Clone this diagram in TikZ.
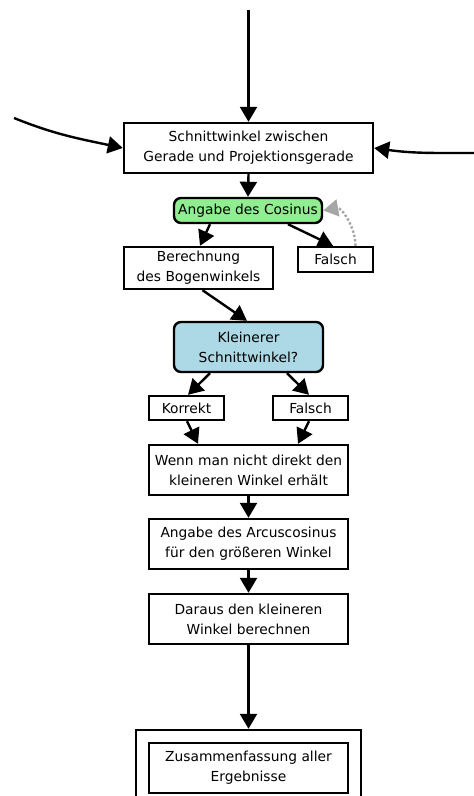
\documentclass[tikz,border=0pt]{standalone}
\usepackage{fontspec}
\setmainfont{DejaVu Sans}
\usetikzlibrary{arrows.meta}
\definecolor{paleGreen}{HTML}{90EE90}
\definecolor{paleBlue}{HTML}{ADD8E6}
\begin{document}
\begin{tikzpicture}[x=1pt,y=-1pt,
  font=\fontsize{13.8}{20}\selectfont,
  box/.style={draw, line width=2.4pt, fill=white, align=center, inner sep=0pt},
  roundbox/.style={box, rounded corners=7pt},
  flow/.style={line width=2.4pt, -{Triangle[length=15pt,width=17pt]}},
  back/.style={line width=2.4pt, gray!70, dotted, -{Triangle[length=15pt,width=17pt]}}]
\useasboundingbox (0,0) rectangle (474,796);

% main steps
\node[box, minimum width=249pt, minimum height=50pt] (schnitt) at (248.5,148)
  {Schnittwinkel zwischen\\Gerade und Projektionsgerade};
\node[roundbox, fill=paleGreen, minimum width=148pt, minimum height=25pt] (cosinus) at (248,210.5)
  {Angabe des Cosinus};
\node[box, minimum width=149pt, minimum height=42pt] (bogen) at (198.5,268)
  {Berechnung\\des Bogenwinkels};
\node[box, minimum width=75pt, minimum height=25pt] (falschA) at (335.5,259.5) {Falsch};
\node[roundbox, fill=paleBlue, minimum width=149pt, minimum height=50pt] (kleiner) at (248.5,347)
  {Kleinerer\\Schnittwinkel?};
\node[box, minimum width=75pt, minimum height=24pt] (korrekt) at (186.5,408) {Korrekt};
\node[box, minimum width=75pt, minimum height=24pt] (falschB) at (310.5,408) {Falsch};
\node[box, minimum width=199pt, minimum height=50pt] (wenn) at (248.5,470)
  {Wenn man nicht direkt den\\kleineren Winkel erhält};
\node[box, minimum width=199pt, minimum height=50pt] (arcus) at (248.5,544)
  {Angabe des Arcuscosinus\\für den größeren Winkel};
\node[box, minimum width=199pt, minimum height=50pt] (daraus) at (248.5,619)
  {Daraus den kleineren\\Winkel berechnen};
\node[box, minimum width=225pt, minimum height=90pt] (rahmen) at (248.5,775) {};
\node[box, minimum width=199pt, minimum height=50pt] (summe) at (248.5,768)
  {Zusammenfassung aller\\Ergebnisse};

% incoming connectors
\coordinate (oben) at (248.5,10);
\coordinate (links) at (14,118);
\coordinate (rechts) at (476,153);
\draw[flow] (oben) -- (schnitt.north);
\draw[flow] (links) to[out=-22, in=168] (schnitt.west);
\draw[flow] (rechts) to[out=180, in=-8] (schnitt.east);

% flow between steps
\draw[flow] (schnitt.south) -- (cosinus.north);
\draw[flow] ([xshift=-38pt]cosinus.south) -- ([xshift=1.5pt]bogen.north);
\draw[flow] ([xshift=40pt]cosinus.south) -- ([xshift=-2.5pt]falschA.north);
\draw[back] ([xshift=20pt]falschA.north) to[out=90, in=10] (cosinus.east);
\draw[flow] ([xshift=4pt]bogen.south) -- ([xshift=-1.5pt]kleiner.north);
\draw[flow] ([xshift=-38.5pt]kleiner.south) -- ([xshift=1.5pt]korrekt.north);
\draw[flow] ([xshift=38.5pt]kleiner.south) -- ([xshift=-1.5pt]falschB.north);
\draw[flow] ([xshift=0.5pt]korrekt.south) -- ([xshift=-50.5pt]wenn.north);
\draw[flow] ([xshift=-1.5pt]falschB.south) -- ([xshift=49.5pt]wenn.north);
\draw[flow] (wenn.south) -- (arcus.north);
\draw[flow] (arcus.south) -- (daraus.north);
\draw[flow] (daraus.south) -- (rahmen.north);
\end{tikzpicture}
\end{document}
